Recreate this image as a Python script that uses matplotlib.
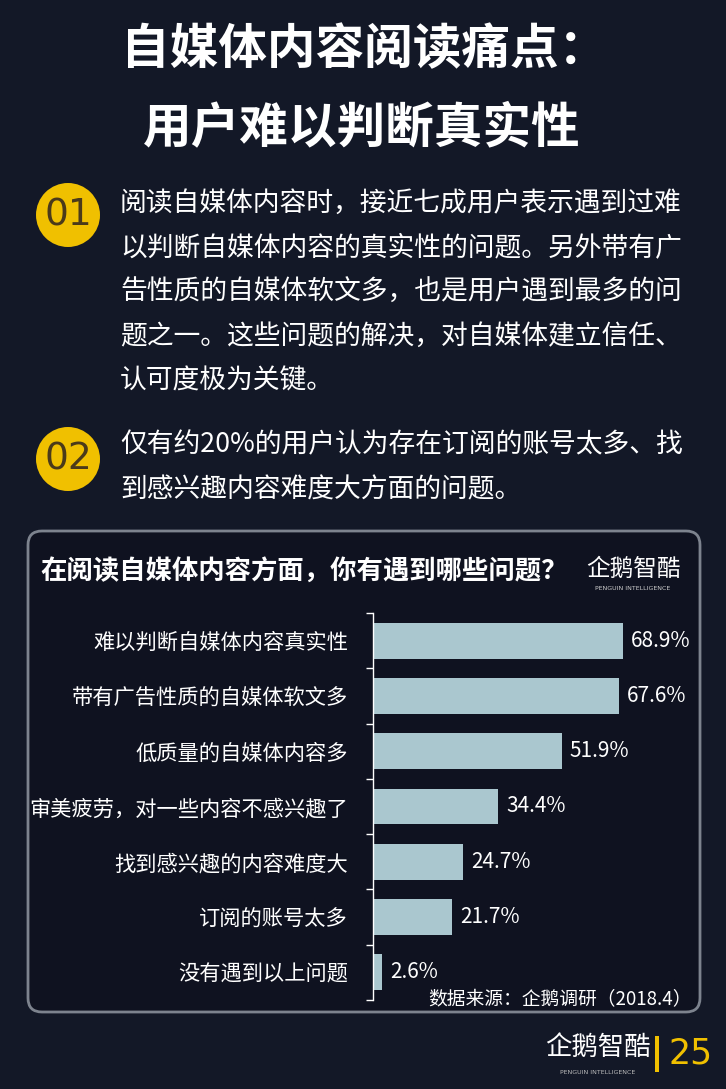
import matplotlib.pyplot as plt
import numpy as np
from matplotlib.patches import FancyBboxPatch, Circle, Rectangle

plt.rcParams['font.family'] = ['Noto Sans CJK SC', 'DejaVu Sans']

categories = [
    "难以判断自媒体内容真实性",
    "带有广告性质的自媒体软文多",
    "低质量的自媒体内容多",
    "审美疲劳，对一些内容不感兴趣了",
    "找到感兴趣的内容难度大",
    "订阅的账号太多",
    "没有遇到以上问题",
]
values = [68.9, 67.6, 51.9, 34.4, 24.7, 21.7, 2.6]

title_lines = ["自媒体内容阅读痛点：", "用户难以判断真实性"]
para1 = [
    "阅读自媒体内容时，接近七成用户表示遇到过难",
    "以判断自媒体内容的真实性的问题。另外带有广",
    "告性质的自媒体软文多，也是用户遇到最多的问",
    "题之一。这些问题的解决，对自媒体建立信任、",
    "认可度极为关键。",
]
para2 = [
    "仅有约20%的用户认为存在订阅的账号太多、找",
    "到感兴趣内容难度大方面的问题。",
]
chart_title = "在阅读自媒体内容方面，你有遇到哪些问题？"
source = "数据来源：企鹅调研（2018.4）"
page_no = "25"

BG = "#131827"
BOX = "#0f1220"
BAR = "#aac7cf"
GOLD = "#f0c000"

W, H = 726, 1089
fig = plt.figure(figsize=(W / 100, H / 100), dpi=100)
fig.patch.set_facecolor(BG)

# background layer in pixel coordinates
bg = fig.add_axes([0, 0, 1, 1], zorder=-1)
bg.set_xlim(0, W)
bg.set_ylim(H, 0)
bg.axis("off")

# header
bg.text(364, 50, title_lines[0], color="white", fontsize=35,
        fontweight="bold", ha="center", va="center")
bg.text(362, 128, title_lines[1], color="white", fontsize=35,
        fontweight="bold", ha="center", va="center")

# numbered paragraphs
for num, cy, lines, y0 in [("01", 215, para1, 203), ("02", 459, para2, 445)]:
    bg.add_patch(Circle((68, cy), 32, facecolor=GOLD, edgecolor="none"))
    bg.text(68, cy + 1, num, color="#4a3a1a", fontsize=27,
            ha="center", va="center", family="DejaVu Sans")
    for i, line in enumerate(lines):
        bg.text(120, y0 + i * 44.5, line, color="white",
                fontsize=19.3, ha="left", va="center")

# chart box
bg.add_patch(FancyBboxPatch((28, 531), 672, 481,
                            boxstyle="round,pad=0,rounding_size=14",
                            facecolor=BOX, edgecolor="#7d838e",
                            linewidth=2))

bg.text(40, 571, chart_title, color="white", fontsize=19,
        fontweight="bold", ha="left", va="center")
bg.text(633, 569, "企鹅智酷", color="white", fontsize=17,
        ha="center", va="center")
bg.text(633, 589, "PENGUIN INTELLIGENCE", color="#cccccc",
        fontsize=4.5, ha="center", va="center", family="DejaVu Sans")

# bars
ax = fig.add_axes([373 / W, 1 - 1000 / H, 327 / W, (1000 - 613) / H])
ax.set_facecolor("none")
y = np.arange(len(categories))
ax.barh(y, values, height=0.65, color=BAR)
ax.set_ylim(len(categories) - 0.5, -0.5)
ax.set_xlim(0, 90)
for yi, v in zip(y, values):
    ax.text(v + 2.2, yi, f"{v}%", color="white", fontsize=15,
            ha="left", va="center", fontweight="light")
ax.set_yticks(np.arange(len(categories) + 1) - 0.5, minor=False)
ax.set_yticklabels([])
ax.set_yticks(y, minor=True)
ax.set_yticklabels(categories, minor=True)
ax.tick_params(axis="y", which="major", length=5, color="white", width=1)
ax.tick_params(axis="y", which="minor", length=0, pad=18,
               labelcolor="white", labelsize=15.3)
ax.set_xticks([])
for s in ["top", "right", "bottom"]:
    ax.spines[s].set_visible(False)
ax.spines["left"].set_color("white")
ax.spines["left"].set_linewidth(1)

bg.text(692, 1000, source, color="white", fontsize=13.5,
        ha="right", va="center")

# footer logo and page number
bg.text(598, 1047, "企鹅智酷", color="white", fontsize=19,
        ha="center", va="center")
bg.text(598, 1072, "PENGUIN INTELLIGENCE", color="#bbbbbb",
        fontsize=4.5, ha="center", va="center", family="DejaVu Sans")
bg.add_patch(Rectangle((655, 1036), 4, 36, facecolor=GOLD, edgecolor="none"))
bg.text(691, 1053, page_no, color=GOLD, fontsize=25,
        ha="center", va="center", family="DejaVu Sans")

fig.savefig("out.png", dpi=100, facecolor=BG)
